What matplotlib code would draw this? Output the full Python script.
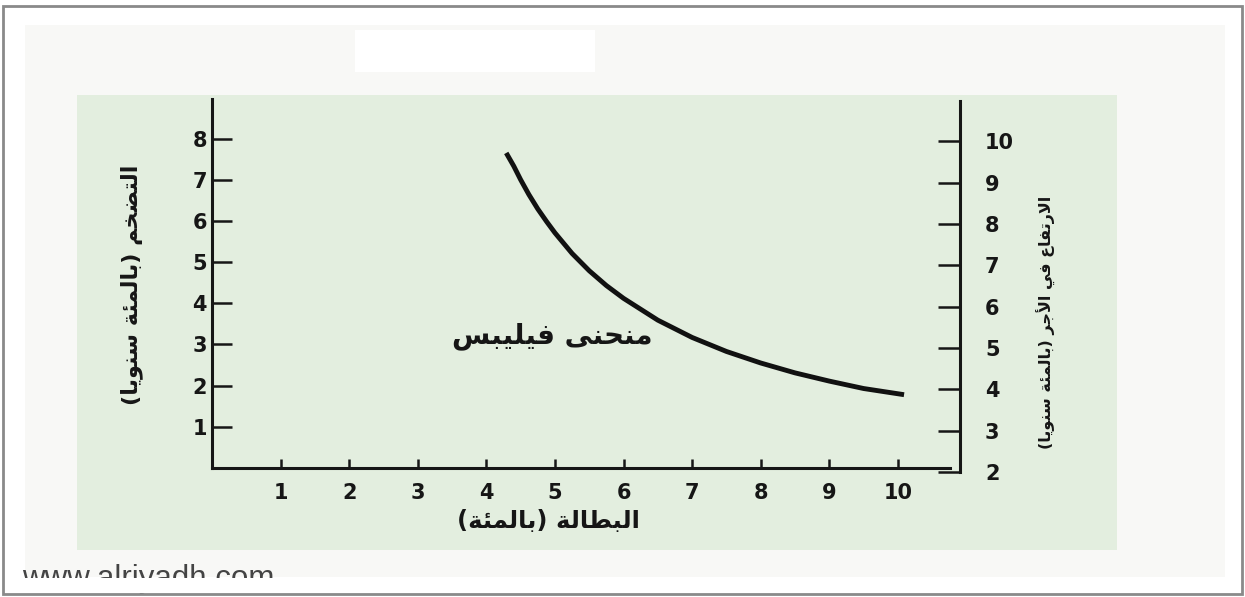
import matplotlib.pyplot as plt
from matplotlib.patches import Rectangle

# منحنى فيليبس: قراءة النقاط من الصورة
unemployment = [4.29, 4.40, 4.50, 4.62, 4.75, 4.88, 5.00, 5.25, 5.50, 5.75, 6.00,
                6.50, 7.00, 7.50, 8.00, 8.50, 9.00, 9.50, 10.09]
inflation = [7.65, 7.33, 7.00, 6.64, 6.29, 5.98, 5.71, 5.21, 4.79, 4.43, 4.12,
             3.59, 3.17, 2.83, 2.55, 2.31, 2.11, 1.93, 1.78]

x_ticks = list(range(1, 11))
left_ticks = list(range(1, 9))
right_ticks = list(range(2, 11))

x_title = 'البطالة (بالمئة)'
left_title = 'التضخم (بالمئة سنويا)'
right_title = 'الارتفاع في الأجر (بالمئة سنويا)'
curve_name = 'منحنى فيليبس'
site = 'www.alriyadh.com'

# matplotlib لا يشكّل الحروف العربية، فنحوّلها يدويا الى الأشكال المتصلة
FORMS = {
    'ا': ('\uFE8D', '\uFE8E', None, None),
    'أ': ('\uFE83', '\uFE84', None, None),
    'ب': ('\uFE8F', '\uFE90', '\uFE91', '\uFE92'),
    'ة': ('\uFE93', '\uFE94', None, None),
    'ت': ('\uFE95', '\uFE96', '\uFE97', '\uFE98'),
    'ج': ('\uFE9D', '\uFE9E', '\uFE9F', '\uFEA0'),
    'ح': ('\uFEA1', '\uFEA2', '\uFEA3', '\uFEA4'),
    'خ': ('\uFEA5', '\uFEA6', '\uFEA7', '\uFEA8'),
    'ر': ('\uFEAD', '\uFEAE', None, None),
    'س': ('\uFEB1', '\uFEB2', '\uFEB3', '\uFEB4'),
    'ض': ('\uFEBD', '\uFEBE', '\uFEBF', '\uFEC0'),
    'ط': ('\uFEC1', '\uFEC2', '\uFEC3', '\uFEC4'),
    'ع': ('\uFEC9', '\uFECA', '\uFECB', '\uFECC'),
    'ف': ('\uFED1', '\uFED2', '\uFED3', '\uFED4'),
    'ل': ('\uFEDD', '\uFEDE', '\uFEDF', '\uFEE0'),
    'م': ('\uFEE1', '\uFEE2', '\uFEE3', '\uFEE4'),
    'ن': ('\uFEE5', '\uFEE6', '\uFEE7', '\uFEE8'),
    'و': ('\uFEED', '\uFEEE', None, None),
    'ى': ('\uFEEF', '\uFEF0', None, None),
    'ي': ('\uFEF1', '\uFEF2', '\uFEF3', '\uFEF4'),
    'ئ': ('\uFE89', '\uFE8A', '\uFE8B', '\uFE8C'),
}
LAM_ALEF = {'ا': ('\uFEFB', '\uFEFC'), 'أ': ('\uFEF7', '\uFEF8')}
MIRROR = {'(': ')', ')': '('}


def shape_ar(s):
    out = []
    i = 0
    while i < len(s):
        c = s[i]
        prev = s[i - 1] if i > 0 else ''
        joins_prev = prev in FORMS and FORMS[prev][2] is not None
        if c == 'ل' and i + 1 < len(s) and s[i + 1] in LAM_ALEF:
            out.append(LAM_ALEF[s[i + 1]][1 if joins_prev else 0])
            i += 2
            continue
        if c in FORMS:
            nxt = s[i + 1] if i + 1 < len(s) else ''
            iso, fin, ini, med = FORMS[c]
            joins_next = ini is not None and nxt in FORMS
            if joins_prev and joins_next:
                out.append(med)
            elif joins_prev:
                out.append(fin)
            elif joins_next:
                out.append(ini)
            else:
                out.append(iso)
        else:
            out.append(MIRROR.get(c, c))
        i += 1
    return ''.join(reversed(out))


W, H = 1245, 597
fig = plt.figure(figsize=(W / 100, H / 100), dpi=100)
fig.patch.set_facecolor('white')


def add_rect(x0, y0, x1, y1, z, **kw):
    # مستطيل بإحداثيات البكسل (الأصل أعلى اليسار)
    r = Rectangle((x0 / W, 1 - y1 / H), (x1 - x0) / W, (y1 - y0) / H,
                  transform=fig.transFigure, zorder=z, **kw)
    fig.patches.append(r)


add_rect(25, 25, 1225, 577, -10, facecolor='#f8f8f6', edgecolor='none')
add_rect(355, 30, 595, 72, -9, facecolor='white', edgecolor='none')
add_rect(77, 95, 1117, 550, -9, facecolor='#e3eedf', edgecolor='none')

ar_font = 'DejaVu Sans'
num_font = 'DejaVu Sans'
ink = '#161616'

# المحور الرئيسي
ax = fig.add_axes([212 / W, 1 - 468 / H, (950 - 212) / W, (468 - 99) / H])
ax.patch.set_visible(False)
ax.plot(unemployment, inflation, color='#111111', lw=3.5, solid_capstyle='butt')
ax.set_xlim(0, 10.76)
ax.set_ylim(0, 8.96)
for side in ['top', 'right']:
    ax.spines[side].set_visible(False)
for side in ['left', 'bottom']:
    ax.spines[side].set_linewidth(2.2)
    ax.spines[side].set_color(ink)
ax.set_xticks(x_ticks)
ax.set_yticks(left_ticks)
ax.tick_params(axis='x', direction='in', length=6.5, width=1.8, pad=11, color=ink)
ax.tick_params(axis='y', direction='in', length=14.5, width=1.8, pad=3.6, color=ink)
for lab in ax.get_xticklabels() + ax.get_yticklabels():
    lab.set_fontfamily(num_font)
    lab.set_fontweight('bold')
    lab.set_fontsize(15)
    lab.set_color(ink)

# محور الأجور على اليمين
ax2 = fig.add_axes([960 / W - 0.002, 1 - 472 / H, 0.002, (472 - 101) / H])
ax2.patch.set_visible(False)
for side in ['top', 'left', 'bottom']:
    ax2.spines[side].set_visible(False)
ax2.spines['right'].set_linewidth(2.2)
ax2.spines['right'].set_color(ink)
ax2.set_xticks([])
ax2.set_ylim(2, 10.98)
ax2.set_yticks(right_ticks)
ax2.yaxis.tick_right()
ax2.tick_params(axis='y', direction='in', length=16, width=1.8, pad=18, color=ink)
for lab in ax2.get_yticklabels():
    lab.set_fontfamily(num_font)
    lab.set_fontweight('bold')
    lab.set_fontsize(15)
    lab.set_color(ink)

# النصوص
fig.text(548 / W, 1 - 521 / H, shape_ar(x_title), family=ar_font, weight='bold',
         fontsize=17.5, ha='center', va='center', color=ink)
fig.text(132 / W, 1 - 285 / H, shape_ar(left_title), family=ar_font, weight='bold',
         fontsize=16, ha='center', va='center', rotation=90, color=ink)
fig.text(1046 / W, 1 - 322 / H, shape_ar(right_title), family=ar_font, weight='bold',
         fontsize=11.5, ha='center', va='center', rotation=90, color=ink)
fig.text(552 / W, 1 - 336 / H, shape_ar(curve_name), family=ar_font, weight='bold',
         fontsize=20, ha='center', va='center', color=ink)

# العلامة المائية مقصوصة من الأسفل
fig.text(22 / W, 1 - 587 / H, site, family='Liberation Sans', fontsize=22.5, color='#444444',
         ha='left', va='baseline', zorder=3)
add_rect(5, 578, 1240, 593, 5, facecolor='white', edgecolor='none')
add_rect(3, 6, 1242, 594, 6, facecolor='none', edgecolor='#8a8a8a', linewidth=2)

fig.savefig('out.png', dpi=100)
